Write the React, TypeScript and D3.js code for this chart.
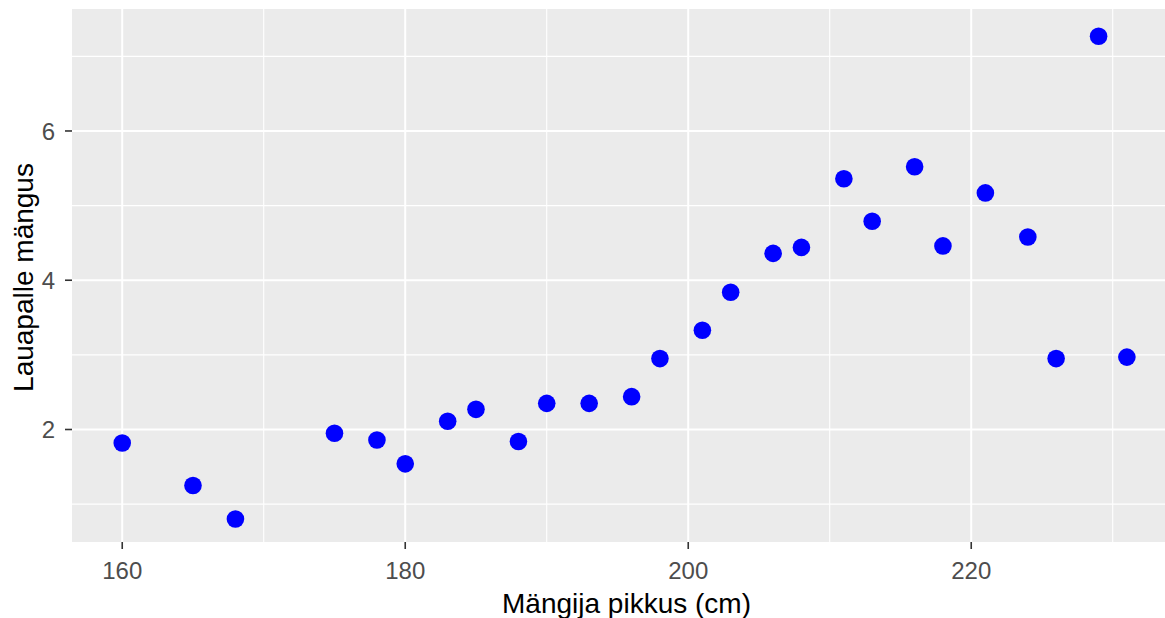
import React from "react";
import * as d3 from "d3";

const heights = [160, 165, 168, 175, 178, 180, 183, 185, 188, 190, 193, 196, 198, 201, 203, 206, 208, 211, 213, 216, 218, 221, 224, 226, 229, 231];
const blocks = [1.82, 1.25, 0.80, 1.95, 1.86, 1.54, 2.11, 2.27, 1.84, 2.35, 2.35, 2.44, 2.95, 3.33, 3.84, 4.36, 4.44, 5.36, 4.79, 5.52, 4.46, 5.17, 4.58, 2.95, 7.27, 2.97];
const xMajor = [160, 180, 200, 220];
const xMinor = [170, 190, 210, 230];
const yMajor = [2, 4, 6];
const yMinor = [1, 3, 5, 7];
const xTitle = "Mängija pikkus (cm)";
const yTitle = "Lauapalle mängus";

const W = 1165;
const H = 618;
const left = 72;
const top = 9;
const bottom = 542;

export default function App() {
  const x = d3.scaleLinear().domain([156.45, 234.55]).range([left, left + 78.1 * 14.15]);
  const y = d3.scaleLinear().domain([0.4925, 7.621]).range([bottom, top + 1]);
  const right = x.range()[1];
  const font = "'Liberation Sans', Arial, sans-serif";
  return (
    <svg width={W} height={H} style={{ position: "absolute", left: 0, top: 0 }} fontFamily={font}>
      <rect x={0} y={0} width={W} height={H} fill="#fff" />
      <rect x={left} y={top} width={right - left} height={bottom - top} fill="#EBEBEB" />
      {yMinor.map((v) => (
        <line key={"ym" + v} x1={left} x2={right} y1={y(v)} y2={y(v)} stroke="#fff" strokeWidth={1.1} />
      ))}
      {xMinor.map((v) => (
        <line key={"xm" + v} x1={x(v)} x2={x(v)} y1={top} y2={bottom} stroke="#fff" strokeWidth={1.1} />
      ))}
      {yMajor.map((v) => (
        <line key={"yM" + v} x1={left} x2={right} y1={y(v)} y2={y(v)} stroke="#fff" strokeWidth={2} />
      ))}
      {xMajor.map((v) => (
        <line key={"xM" + v} x1={x(v)} x2={x(v)} y1={top} y2={bottom} stroke="#fff" strokeWidth={2} />
      ))}
      {heights.map((h, i) => (
        <circle key={"p" + i} cx={x(h)} cy={y(blocks[i])} r={8.8} fill="#0000FF" />
      ))}
      {xMajor.map((v) => (
        <g key={"xt" + v}>
          <line x1={x(v)} x2={x(v)} y1={bottom} y2={bottom + 7} stroke="#333" strokeWidth={1.6} />
          <text x={x(v)} y={579} textAnchor="middle" fontSize={24} fill="#4D4D4D">{v}</text>
        </g>
      ))}
      {yMajor.map((v) => (
        <g key={"yt" + v}>
          <line x1={left - 7} x2={left} y1={y(v)} y2={y(v)} stroke="#333" strokeWidth={1.6} />
          <text x={55} y={y(v)} dy="0.36em" textAnchor="end" fontSize={24} fill="#4D4D4D">{v}</text>
        </g>
      ))}
      <text x={(left + W) / 2 + 8} y={613} textAnchor="middle" fontSize={28} fill="#000">{xTitle}</text>
      <text transform={`translate(33,${(top + bottom) / 2 + 2}) rotate(-90)`} textAnchor="middle" fontSize={28} fill="#000">{yTitle}</text>
    </svg>
  );
}
